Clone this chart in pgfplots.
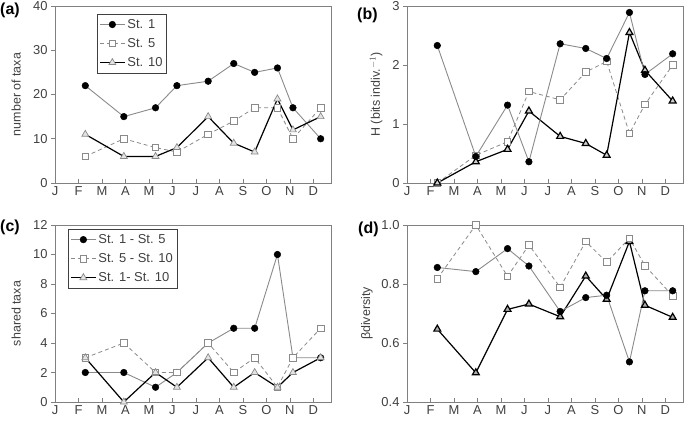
\documentclass[border=0pt]{standalone}
\usepackage{fontspec}
\setmainfont{Liberation Sans}
\usepackage{pgfplots}
\pgfplotsset{compat=1.18}
\definecolor{lg}{HTML}{8A8A8A}
\definecolor{fr}{HTML}{808080}
\definecolor{tri}{HTML}{E4E4E4}

\pgfplotsset{
  panel/.style={
    scale only axis, width=276bp, height=177bp,
    xmin=0, xmax=11.75,
    xtick={0,...,11}, xticklabels={J,F,M,A,M,J,J,A,S,O,N,D},
    axis line style={fr, line width=0.8bp},
    xtick pos=bottom, ytick pos=left,
    xtick align=inside, ytick align=outside,
    major tick length=4bp,
    tick style={fr, line width=0.7bp},
    tick label style={font=\fontsize{13}{15}\selectfont, text=black!75},
    /pgf/number format/assume math mode=true,
    ylabel style={font=\fontsize{12.5}{14}\selectfont, text=black!75, anchor=center},
    legend style={draw=black!75, line width=0.6bp, font=\fontsize{13}{15}\selectfont,
      text=black!75, inner xsep=2bp, inner ysep=3bp, row sep=4.5bp, cells={anchor=west}},
    legend image code/.code={\draw[mark repeat=2,mark phase=2] plot coordinates {(0bp,0bp)(12.5bp,0bp)(25bp,0bp)};},
  },
  sa/.style={color=lg, line width=0.9bp, mark=*, mark size=3.3bp, mark options={fill=black, draw=black, solid, line width=0.5bp}},
  sb/.style={color=lg, line width=0.8bp, dash pattern=on 4bp off 3bp, mark=square*, mark size=3.3bp, mark options={fill=white, draw=lg, solid, line width=0.8bp}},
  sc/.style={color=black, line width=1.2bp, mark=triangle*, mark size=4bp, mark options={fill=tri, draw=lg, solid, line width=0.7bp}},
}

\begin{document}
\begin{tikzpicture}
\useasboundingbox (0,0) rectangle (685bp,426bp);

% (a)
\begin{axis}[panel, at={(55bp,243bp)}, anchor=south west,
  ymin=0, ymax=40, ytick={0,10,20,30,40},
  ylabel={number of taxa}, ylabel style={at={(axis description cs:-0.141,0.5)}},
  legend style={at={(axis description cs:0.152,0.955)}, anchor=north west}]
\addplot[sa] coordinates {(1.29,22)(2.93,15)(4.28,17)(5.19,22)(6.52,23)(7.61,27)(8.5,25)(9.47,26)(10.13,17)(11.31,10)};
\addlegendentry{St. 1}
\addplot[sb] coordinates {(1.29,6)(2.93,10)(4.28,8)(5.19,7)(6.52,11)(7.61,14)(8.5,17)(9.47,17)(10.13,10)(11.31,17)};
\addlegendentry{St. 5}
\addplot[sc] coordinates {(1.29,11)(2.93,6)(4.28,6)(5.19,8)(6.52,15)(7.61,9)(8.5,7)(9.47,19)(10.13,12)(11.31,15)};
\addlegendentry{St. 10}
\end{axis}

% (b)
\begin{axis}[panel, at={(407bp,243bp)}, anchor=south west,
  ymin=0, ymax=3, ytick={0,1,2,3},
  ylabel={H (bits indiv.$^{-1}$)}, ylabel style={at={(axis description cs:-0.112,0.5)}}]
\addplot[sb] coordinates {(1.29,0)(2.93,0.47)(4.28,0.70)(5.19,1.55)(6.52,1.41)(7.61,1.88)(8.5,2.06)(9.47,0.84)(10.13,1.33)(11.31,2.00)};
\addplot[sc, mark options={fill=lg!40}] coordinates {(1.29,0)(2.93,0.36)(4.28,0.57)(5.19,1.22)(6.52,0.79)(7.61,0.67)(8.5,0.47)(9.47,2.55)(10.13,1.91)(11.31,1.39)};
\addplot[sa] coordinates {(1.29,2.33)(2.93,0.45)(4.28,1.32)(5.19,0.36)(6.52,2.36)(7.61,2.28)(8.5,2.11)(9.47,2.89)(10.13,1.84)(11.31,2.19)};
\end{axis}

% (c)
\begin{axis}[panel, at={(55bp,24bp)}, anchor=south west,
  ymin=0, ymax=12, ytick={0,2,...,12},
  ylabel={shared taxa}, ylabel style={at={(axis description cs:-0.141,0.5)}},
  legend style={at={(axis description cs:0.047,0.977)}, anchor=north west}]
\addplot[sa] coordinates {(1.29,2)(2.93,2)(4.28,1)(5.19,2)(6.52,4)(7.61,5)(8.5,5)(9.47,10)(10.13,3)(11.31,3)};
\addlegendentry{St. 1 - St. 5}
\addplot[sb] coordinates {(1.29,3)(2.93,4)(4.28,2)(5.19,2)(6.52,4)(7.61,2)(8.5,3)(9.47,1)(10.13,3)(11.31,5)};
\addlegendentry{St. 5 - St. 10}
\addplot[sc] coordinates {(1.29,3)(2.93,0)(4.28,2)(5.19,1)(6.52,3)(7.61,1)(8.5,2)(9.47,1)(10.13,2)(11.31,3)};
\addlegendentry{St. 1- St. 10}
\end{axis}

% (d)
\begin{axis}[panel, at={(407bp,24bp)}, anchor=south west,
  ymin=0.4, ymax=1.0, ytick={0.4,0.6,0.8,1.0},
  yticklabel style={/pgf/number format/fixed, /pgf/number format/fixed zerofill, /pgf/number format/precision=1},
  ylabel={βdiversity}, ylabel style={at={(axis description cs:-0.145,0.5)}}]
\addplot[sc, mark options={fill=lg!70}] coordinates {(1.29,0.647)(2.93,0.499)(4.28,0.714)(5.19,0.732)(6.52,0.689)(7.61,0.827)(8.5,0.748)(9.47,0.944)(10.13,0.728)(11.31,0.687)};
\addplot[sb] coordinates {(1.29,0.818)(2.93,1.0)(4.28,0.826)(5.19,0.932)(6.52,0.789)(7.61,0.944)(8.5,0.874)(9.47,0.955)(10.13,0.862)(11.31,0.760)};
\addplot[sa] coordinates {(1.29,0.856)(2.93,0.842)(4.28,0.920)(5.19,0.861)(6.52,0.707)(7.61,0.754)(8.5,0.762)(9.47,0.536)(10.13,0.777)(11.31,0.777)};
\end{axis}

\node[anchor=west, inner sep=0, font=\bfseries\fontsize{16}{18}\selectfont] at (0bp,415.5bp) {(a)};
\node[anchor=west, inner sep=0, font=\bfseries\fontsize{16}{18}\selectfont] at (357bp,411bp) {(b)};
\node[anchor=west, inner sep=0, font=\bfseries\fontsize{16}{18}\selectfont] at (0bp,199bp) {(c)};
\node[anchor=west, inner sep=0, font=\bfseries\fontsize{16}{18}\selectfont] at (358bp,197bp) {(d)};
\end{tikzpicture}
\end{document}
